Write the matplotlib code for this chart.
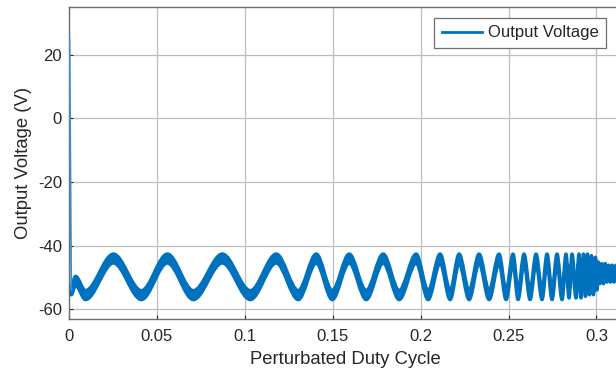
import matplotlib
matplotlib.use("Agg")
import matplotlib.pyplot as plt
from matplotlib.path import Path
from matplotlib.patches import PathPatch
from matplotlib.lines import Line2D

plt.rcParams['font.family'] = ['Liberation Sans', 'DejaVu Sans']

# Start-up transient: output voltage falls from its initial value
spike_x = [0.0003, 0.0013]
spike_v = [25.0, -54.0]

# Turning points (duty cycle, mid-band voltage) of the perturbed response
turn_x = [0.0013, 0.0037, 0.00938, 0.02528, 0.04119, 0.05597, 0.07074, 0.08722,
          0.10313, 0.11790, 0.13040, 0.14063, 0.14972, 0.15938, 0.16903, 0.17869,
          0.18778, 0.19744, 0.20426, 0.21108, 0.21676, 0.22188, 0.22756, 0.23324,
          0.23892, 0.24460, 0.24858, 0.25256, 0.25540, 0.25881, 0.26222, 0.26563,
          0.26903, 0.27188, 0.27472, 0.27756, 0.28040, 0.28267, 0.28438, 0.28608,
          0.28835, 0.29006, 0.29119, 0.29261, 0.29375, 0.29489, 0.29602, 0.29716,
          0.29830, 0.29943, 0.30028, 0.3010, 0.3020, 0.3030, 0.3040, 0.3050,
          0.3060, 0.3070, 0.3080, 0.3090, 0.3100, 0.3112]
turn_v = [-54.0, -51.0, -55.5, -44.0, -55.5, -44.0, -55.5, -44.0,
          -55.5, -44.0, -55.5, -44.0, -55.5, -44.0, -55.5, -44.0,
          -55.5, -44.0, -55.5, -44.0, -55.5, -44.0, -55.5, -44.0,
          -55.5, -44.0, -55.5, -44.0, -55.5, -44.0, -55.5, -44.0,
          -55.5, -44.0, -55.5, -44.0, -55.5, -44.0, -55.0, -44.0,
          -55.0, -44.0, -55.0, -44.0, -54.5, -44.0, -54.0, -44.5,
          -54.0, -45.0, -52.5, -46.5, -50.5, -47.0, -50.5, -47.0,
          -50.0, -47.5, -50.0, -47.5, -50.0, -47.5]
# Half-height of the switching ripple band (V)
ripple_v = 1.4

x_ticks = [0, 0.05, 0.1, 0.15, 0.2, 0.25, 0.3]
x_tick_labels = ['0', '0.05', '0.1', '0.15', '0.2', '0.25', '0.3']
y_ticks = [-60, -40, -20, 0, 20]
y_tick_labels = ['-60', '-40', '-20', '0', '20']

blue = '#0072BD'
ink = '#262626'


def smooth_edge(xs, ys):
    """Cubic segments with flat tangents at every turning point."""
    verts, codes = [], []
    for i in range(len(xs) - 1):
        x0, y0, x1, y1 = xs[i], ys[i], xs[i + 1], ys[i + 1]
        dx = (x1 - x0) / 3.0
        verts += [(x0 + dx, y0), (x1 - dx, y1), (x1, y1)]
        codes += [Path.CURVE4] * 3
    return verts, codes


fig = plt.figure(figsize=(6.16, 3.74), dpi=100)
ax = fig.add_axes([69 / 616, 55 / 374, (616 - 69) / 616 + 0.01, (319 - 7) / 374])

# ripple band: upper edge forward, lower edge backward
upper = [v + ripple_v for v in turn_v]
lower = [v - ripple_v for v in turn_v]
v_up, c_up = smooth_edge(turn_x, upper)
v_lo, c_lo = smooth_edge(turn_x[::-1], lower[::-1])
verts = [(turn_x[0], upper[0])] + v_up + [(turn_x[-1], lower[-1])] + v_lo + [(0, 0)]
codes = [Path.MOVETO] + c_up + [Path.LINETO] + c_lo + [Path.CLOSEPOLY]
ax.add_patch(PathPatch(Path(verts, codes), facecolor=blue, edgecolor=blue,
                       lw=2.5, joinstyle='round', zorder=3))
ax.plot(spike_x, spike_v, color='#3b8fd0', lw=1.3, zorder=3)

ax.set_xlim(0, 0.3111 + 0.01 * 0.3111 * 616 / 547)
ax.set_ylim(-63, 35)
ax.set_xticks(x_ticks)
ax.set_xticklabels(x_tick_labels)
ax.set_yticks(y_ticks)
ax.set_yticklabels(y_tick_labels)
ax.tick_params(direction='in', length=3, width=0.8, colors=ink, labelsize=12)
ax.tick_params(axis='x', pad=7)
ax.tick_params(axis='y', pad=5)
ax.grid(True, color='#bdbdbd', lw=0.9)
ax.set_axisbelow(True)
for side in ('left', 'bottom', 'top'):
    ax.spines[side].set_color('#6e6e6e')
    ax.spines[side].set_linewidth(1.0)
ax.spines['right'].set_visible(False)

ax.set_xlabel('Perturbated Duty Cycle', fontsize=13.3, color=ink, labelpad=5)
ax.set_ylabel('Output Voltage (V)', fontsize=13.3, color=ink, labelpad=4)

handle = Line2D([], [], color=blue, lw=2)
leg = ax.legend([handle], ['Output Voltage'], loc='upper right',
                bbox_to_anchor=(606 / 616, 1 - 18 / 374),
                bbox_transform=fig.transFigure, borderaxespad=0,
                fontsize=12, handlelength=2.4, handletextpad=0.35,
                borderpad=0.45, fancybox=False, framealpha=1)
leg.get_frame().set_edgecolor('#6e6e6e')
leg.get_frame().set_linewidth(0.9)
for t in leg.get_texts():
    t.set_color(ink)

fig.savefig('out.png', dpi=100)
